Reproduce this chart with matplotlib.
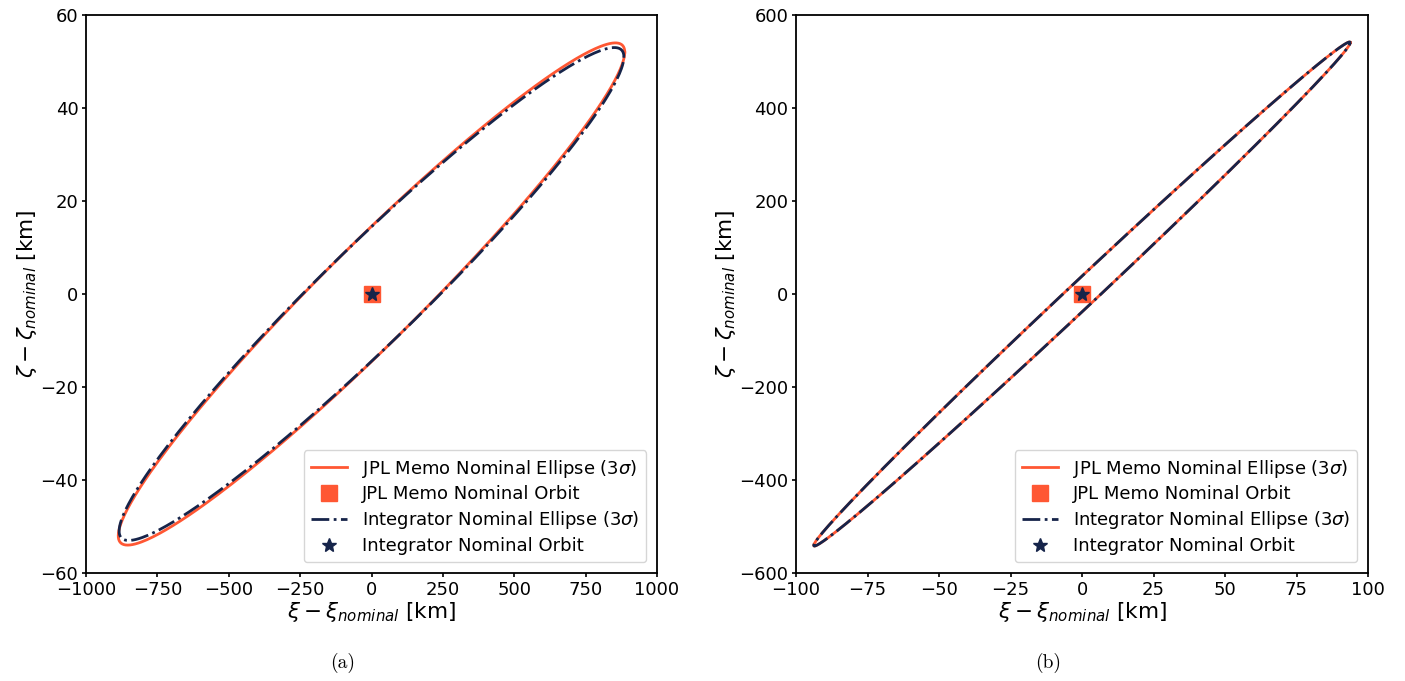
import numpy as np
import matplotlib
matplotlib.use("Agg")
import matplotlib.pyplot as plt

# ---- data (3-sigma ellipse parameters) ----
panels = ["(a)", "(b)"]
# panel (a)
a_jpl_sigma = [887 / 3, 54.0 / 3]      # sigma_xi, sigma_zeta [km]
a_jpl_rho = 0.963
a_int_sigma = [884 / 3, 53.0 / 3]
a_int_rho = 0.962
# panel (b)
b_jpl_sigma = [93.8 / 3, 542.0 / 3]
b_int_sigma = [93.8 / 3, 542.0 / 3]
b_jpl_rho = 0.99747
b_int_rho = 0.99747
# nominal orbit offsets
jpl_nominal = [0.0, 0.0]
int_nominal = [0.0, 0.0]

xlims = [(-1000, 1000), (-100, 100)]
ylims = [(-60, 60), (-600, 600)]
xticks = [np.arange(-1000, 1001, 250), np.arange(-100, 101, 25)]
yticks = [np.arange(-60, 61, 20), np.arange(-600, 601, 200)]

ORANGE = "#FF5733"
NAVY = "#16244A"


def ellipse(sig, rho, center, n=400, k=3.0):
    t = np.linspace(0, 2 * np.pi, n)
    x = center[0] + k * sig[0] * np.cos(t)
    y = center[1] + k * sig[1] * (rho * np.cos(t) + np.sqrt(1 - rho ** 2) * np.sin(t))
    return x, y


fig = plt.figure(figsize=(14.05, 6.81), dpi=100)
ax1 = fig.add_axes([86 / 1405, 108 / 681, 571 / 1405, 558 / 681])
ax2 = fig.add_axes([796 / 1405, 108 / 681, 572 / 1405, 558 / 681])

params = [
    (a_jpl_sigma, a_jpl_rho, a_int_sigma, a_int_rho),
    (b_jpl_sigma, b_jpl_rho, b_int_sigma, b_int_rho),
]

for i, (ax, (js, jr, isg, ir)) in enumerate(zip([ax1, ax2], params)):
    x, y = ellipse(js, jr, jpl_nominal)
    ax.plot(x, y, color=ORANGE, lw=2.0, label=r"JPL Memo Nominal Ellipse (3$\sigma$)")
    ax.plot(jpl_nominal[0], jpl_nominal[1], "s", color=ORANGE, ms=11, ls="none",
            label="JPL Memo Nominal Orbit")
    x, y = ellipse(isg, ir, int_nominal)
    ax.plot(x, y, color=NAVY, lw=2.0, ls="-.", label=r"Integrator Nominal Ellipse (3$\sigma$)")
    ax.plot(int_nominal[0], int_nominal[1], "*", color=NAVY, ms=10, ls="none",
            label="Integrator Nominal Orbit")
    ax.set_xlim(*xlims[i])
    ax.set_ylim(*ylims[i])
    ax.set_xticks(xticks[i])
    ax.set_yticks(yticks[i])
    ax.tick_params(labelsize=13, width=1.2, length=3, pad=2.5)
    for s in ax.spines.values():
        s.set_linewidth(1.3)
    ax.set_xlabel(r"$\xi - \xi_{nominal}$ [km]", fontsize=15.5, labelpad=1)
    ax.set_ylabel(r"$\zeta - \zeta_{nominal}$ [km]", fontsize=15.5, labelpad=1)
    ax.legend(loc="lower right", fontsize=13, handlelength=2.0, labelspacing=0.32,
              borderaxespad=0.6)

fig.text(343 / 1405, 1 - 663 / 681, panels[0], family="cmr10", fontsize=14,
         ha="center", va="center")
fig.text(1048 / 1405, 1 - 663 / 681, panels[1], family="cmr10", fontsize=14,
         ha="center", va="center")

fig.savefig("out.png", dpi=100)
